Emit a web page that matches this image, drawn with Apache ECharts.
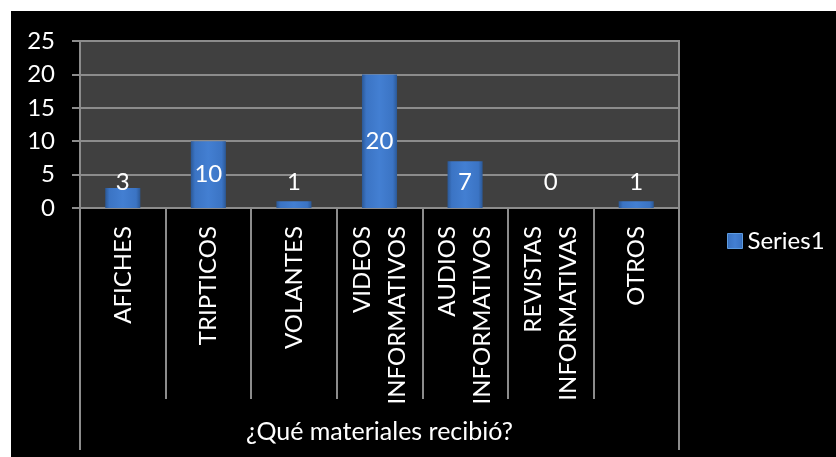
<!DOCTYPE html>
<html>
<head>
<meta charset="utf-8">
<script src="https://cdn.jsdelivr.net/npm/echarts@6/dist/echarts.min.js"></script>
<style>
  html, body { margin: 0; padding: 0; background: #ffffff; }
  #frame { position: absolute; left: 11px; top: 11px; width: 825px; height: 446px; background: #000000; }
  #chart { position: absolute; left: 0; top: 0; width: 836px; height: 457px; }
</style>
</head>
<body>
<div id="frame"></div>
<div id="chart"></div>
<script>
// Materials received, one count per category
const categories = ['AFICHES', 'TRIPTICOS', 'VOLANTES', 'VIDEOS\nINFORMATIVOS', 'AUDIOS\nINFORMATIVOS', 'REVISTAS\nINFORMATIVAS', 'OTROS'];
const seriesName = 'Series1';
const values = [3, 10, 1, 20, 7, 0, 1];
const yTicks = { min: 0, max: 25, interval: 5 };
const axisTitle = '¿Qué materiales recibió?';

const W = 836, H = 457;
const gridLeft = 80, gridRight = 157, gridTop = 41, gridBottom = 249;
const font = 'Lato, "Open Sans", sans-serif';
const fs = 24;
const gray = '#8c8c8c';

const barFill = new echarts.graphic.LinearGradient(0, 0, 1, 0, [
  { offset: 0, color: '#2b5896' },
  { offset: 0.12, color: '#3b74c4' },
  { offset: 0.5, color: '#437fd2' },
  { offset: 0.88, color: '#3b74c4' },
  { offset: 1, color: '#2b5896' }
]);

// Short bars keep their value label just above the axis instead of centred
const barData = values.map(v => {
  const item = { value: v };
  if (v < 8) {
    item.label = { position: 'insideBottom', distance: 14 };
  }
  return item;
});

const chart = echarts.init(document.getElementById('chart'), null, { renderer: 'canvas' });
const plotRight = W - gridRight;
const plotBottom = H - gridBottom;

chart.setOption({
  backgroundColor: 'transparent',
  animation: false,
  textStyle: { fontFamily: font },
  grid: {
    left: gridLeft, right: gridRight, top: gridTop, bottom: gridBottom,
    show: true, backgroundColor: '#404040', borderColor: gray, borderWidth: 2
  },
  legend: {
    data: [seriesName],
    left: 722, top: 224,
    icon: 'rect', itemWidth: 15, itemHeight: 15, itemGap: 5,
    textStyle: { color: '#ffffff', fontSize: fs, fontFamily: font },
    itemStyle: { color: barFill, borderColor: '#5d9be0', borderWidth: 1 }
  },
  xAxis: {
    type: 'category',
    data: categories,
    boundaryGap: true,
    axisLine: { show: true, lineStyle: { color: gray, width: 2 } },
    axisTick: { show: true, interval: 0, length: 191, lineStyle: { color: gray, width: 2 } },
    axisLabel: {
      interval: 0, rotate: 90, margin: 18,
      color: '#ffffff', fontSize: fs, lineHeight: 35, fontFamily: font
    },
    name: axisTitle,
    nameLocation: 'middle',
    nameGap: 211,
    nameTextStyle: { color: '#ffffff', fontSize: fs + 1, fontFamily: font }
  },
  yAxis: {
    type: 'value',
    min: yTicks.min, max: yTicks.max, interval: yTicks.interval,
    axisLine: { show: true, lineStyle: { color: gray, width: 2 } },
    axisTick: { show: true, length: 8, lineStyle: { color: gray, width: 2 } },
    axisLabel: { color: '#ffffff', fontSize: fs, margin: 25, fontFamily: font },
    splitLine: { show: true, lineStyle: { color: gray, width: 2 } }
  },
  series: [{
    name: seriesName,
    type: 'bar',
    data: barData,
    barWidth: '41%',
    itemStyle: { color: barFill, borderWidth: 0 },
    label: {
      show: true, position: 'inside',
      color: '#ffffff', fontSize: fs, fontFamily: font
    }
  }],
  // Outer edges of the category table run down past the axis title
  graphic: [
    { type: 'line', shape: { x1: gridLeft, y1: plotBottom, x2: gridLeft, y2: 450 }, style: { stroke: gray, lineWidth: 2 }, z: 10 },
    { type: 'line', shape: { x1: plotRight, y1: plotBottom, x2: plotRight, y2: 450 }, style: { stroke: gray, lineWidth: 2 }, z: 10 }
  ]
});
</script>
</body>
</html>
